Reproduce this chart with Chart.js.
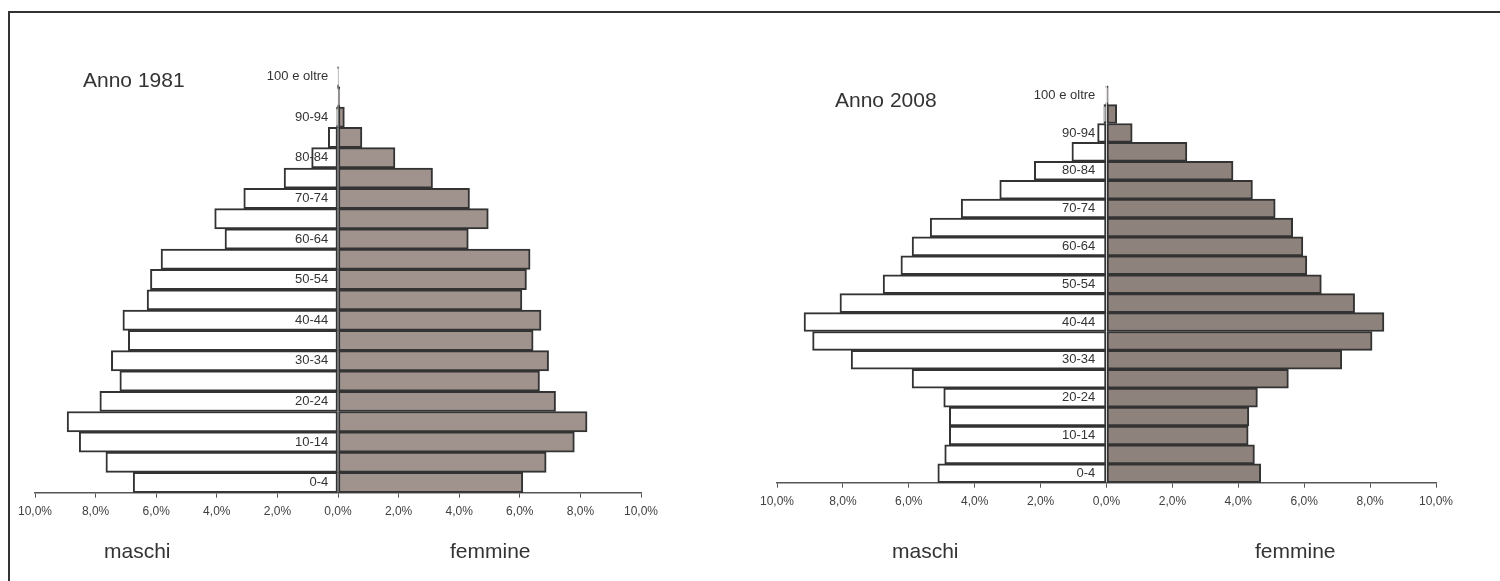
<!DOCTYPE html>
<html>
<head>
<meta charset="utf-8">
<script src="https://cdn.jsdelivr.net/npm/chart.js@4/dist/chart.umd.min.js"></script>
<style>
  html, body { margin: 0; padding: 0; background: #fff; }
  body { width: 1500px; height: 581px; position: relative; overflow: hidden;
         font-family: "Liberation Sans", Arial, sans-serif; color: #333; }
  .frame { position: absolute; left: 8px; top: 11px; width: 1520px; height: 620px;
           border: 2px solid #333; }
  .wrap { position: absolute; top: 0; height: 581px; }
  .lbl { position: absolute; font-size: 21px; white-space: nowrap; line-height: 1; }
</style>
</head>
<body>
<div class="frame"></div>
<div class="wrap" style="left:0;width:700px"><canvas id="c1981"></canvas></div>
<div class="wrap" style="left:700px;width:800px"><canvas id="c2008"></canvas></div>

<div class="lbl" style="left:83px;top:69px">Anno 1981</div>
<div class="lbl" style="left:835px;top:89px">Anno 2008</div>
<div class="lbl" style="left:104px;top:540px">maschi</div>
<div class="lbl" style="left:450px;top:540px">femmine</div>
<div class="lbl" style="left:892px;top:540px">maschi</div>
<div class="lbl" style="left:1255px;top:540px">femmine</div>

<script>
/* ── Dati (percentuali sul totale) ── */
const classi = ['0-4','5-9','10-14','15-19','20-24','25-29','30-34','35-39','40-44','45-49',
                '50-54','55-59','60-64','65-69','70-74','75-79','80-84','85-89','90-94','95-99','100 e oltre'];

const maschi1981  = [6.76, 7.66, 8.54, 8.94, 7.86, 7.20, 7.48, 6.92, 7.10, 6.30,
                     6.19, 5.84, 3.73, 4.07, 3.11, 1.78, 0.87, 0.32, 0.05, 0.02, 0.02];
const femmine1981 = [6.10, 6.87, 7.80, 8.22, 7.18, 6.65, 6.95, 6.44, 6.70, 6.07,
                     6.22, 6.34, 4.30, 4.96, 4.34, 3.12, 1.88, 0.79, 0.21, 0.06, 0.02];

const maschi2008  = [5.12, 4.91, 4.77, 4.77, 4.94, 5.90, 7.75, 8.92, 9.18, 8.09,
                     6.78, 6.24, 5.90, 5.35, 4.41, 3.24, 2.19, 1.05, 0.27, 0.08, 0.02];
const femmine2008 = [4.68, 4.49, 4.30, 4.32, 4.58, 5.52, 7.14, 8.06, 8.42, 7.53,
                     6.52, 6.08, 5.96, 5.65, 5.12, 4.43, 3.84, 2.44, 0.78, 0.31, 0.05];

const xTicks = [-10, -8, -6, -4, -2, 0, 2, 4, 6, 8, 10];

const BORDO = '#333333';

function fmtPerc(v) {
  return Math.abs(v).toFixed(1).replace('.', ',') + '%';
}

// asseX: valore dell'asse x su cui appoggiare le etichette delle classi
function piramide(id, maschi, femmine, coloreF, pad, asseX) {
  const ctx = document.getElementById(id).getContext('2d');
  return new Chart(ctx, {
    type: 'bar',
    data: {
      labels: classi,
      datasets: [
        {
          label: 'maschi',
          data: maschi.map(v => -v),
          backgroundColor: '#ffffff',
          borderColor: BORDO,
          borderWidth: 2,
          borderSkipped: false,
          barPercentage: 1,
          categoryPercentage: 1
        },
        {
          label: 'femmine',
          data: femmine,
          backgroundColor: coloreF,
          borderColor: BORDO,
          borderWidth: 2,
          borderSkipped: false,
          barPercentage: 1,
          categoryPercentage: 1
        }
      ]
    },
    options: {
      indexAxis: 'y',
      responsive: true,
      maintainAspectRatio: false,
      animation: false,
      layout: { padding: pad },
      plugins: { legend: { display: false }, tooltip: { enabled: false } },
      scales: {
        x: {
          stacked: true,
          min: -10,
          max: 10,
          afterBuildTicks: (s) => { s.ticks = xTicks.map(v => ({ value: v })); },
          afterFit: (s) => { s.height = 30; },
          grid: { display: true, drawOnChartArea: false, drawTicks: true,
                  tickLength: 5, color: '#555', lineWidth: 1 },
          border: { display: true, color: '#555', width: 1.5 },
          ticks: {
            color: '#404040',
            padding: 7,
            maxRotation: 0,
            font: { family: 'Liberation Sans', size: 12 },
            callback: (v) => fmtPerc(v)
          }
        },
        y: {
          stacked: true,
          reverse: true,
          position: { x: asseX },
          grid: { display: false, drawTicks: false },
          border: { display: false },
          ticks: {
            z: 1,
            autoSkip: false,
            color: '#333',
            padding: 0,
            font: { family: 'Liberation Sans', size: 13 },
            callback: (v, i) => (i % 2 === 0 ? classi[i] : '')
          }
        }
      }
    }
  });
}

piramide('c1981', maschi1981, femmine1981, '#a0938e',
         { left: 35, right: 59, top: 66.5, bottom: 58.3 }, -0.32);
piramide('c2008', maschi2008, femmine2008, '#8e827d',
         { left: 77, right: 64, top: 85.7, bottom: 68.3 }, -0.34);
</script>
</body>
</html>
